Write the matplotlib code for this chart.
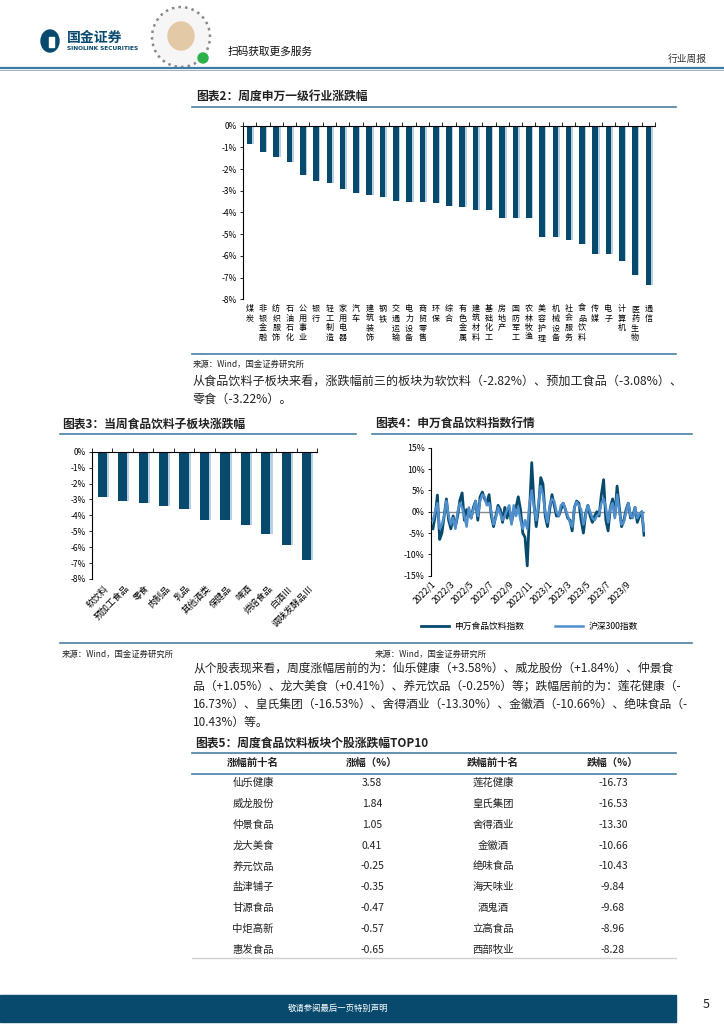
import matplotlib
matplotlib.use("Agg")
import matplotlib.pyplot as plt
import numpy as np
import pandas as pd
from matplotlib.lines import Line2D
from matplotlib.patches import Rectangle, Ellipse

plt.rcParams['font.family'] = ['Noto Sans CJK SC', 'DejaVu Sans']
plt.rcParams['axes.unicode_minus'] = False

# ---- data ----
ind_names = ['煤炭', '非银金融', '纺织服饰', '石油石化', '公用事业', '银行', '轻工制造', '家用电器',
             '汽车', '建筑装饰', '钢铁', '交通运输', '电力设备', '商贸零售', '环保', '综合',
             '有色金属', '建筑材料', '基础化工', '房地产', '国防军工', '农林牧渔', '美容护理',
             '机械设备', '社会服务', '食品饮料', '传媒', '电子', '计算机', '医药生物', '通信']
ind_chg = [-0.83, -1.19, -1.44, -1.67, -2.28, -2.53, -2.63, -2.91, -3.09, -3.20, -3.27,
           -3.45, -3.52, -3.52, -3.58, -3.70, -3.73, -3.88, -3.89, -4.26, -4.26, -4.27,
           -5.11, -5.14, -5.26, -5.46, -5.90, -5.93, -6.25, -6.89, -7.36]

sub_names = ['软饮料', '预加工食品', '零食', '肉制品', '乳品', '其他酒类', '保健品', '啤酒',
             '烘焙食品', '白酒Ⅲ', '调味发酵品Ⅲ']
sub_chg = [-2.82, -3.08, -3.22, -3.43, -3.60, -4.27, -4.31, -4.61, -5.19, -5.84, -6.79]

week_start = '2022-01-07'
food_idx = [-4, -1, 3.9, -6.5, -5, -1, 3, -2, -4, -1, -3.5, -1, 2.7, 4.4, -2, 0.5, 0, -1.5,
            1, 2.5, -2, 3.5, 4.6, 3, 2, 4, -1, -3.5, -1, 1.5, 0.5, -2.5, 1, -1.5, 0.5, -2.5,
            0, 1, 3.5, 0.5, -5, -6, -12.7, 0, 11.5, 2, -3.5, 1, 8, 6.5, -1, -3.5, 0.5, 4,
            1.5, -1, -1, 0.5, 2, 0.5, -1.5, -2, -4.5, 1, 2.5, 2, -2, -5, -0.5, 1.5, -1, -2.5,
            -1, 0, -1, 4, 7.5, -2, -4.5, 1, 3, -1, 6, 1, -3.5, -2, 0.5, 2, -1.5, -1, 1, -2.5,
            -1, 0, -5.5]
hs300_idx = [-2, 0, 2, -4, -3, -1, 2.5, -1, -3, -1.5, -4, 0, 2, 1, -1, -3.5, 1, -1.5, 0.5,
             2.5, -1, 2.5, 4, 3.5, 1.5, 2, 0, -3, -1.5, 1, -0.5, -2, -1, 0.5, 1.5, -3, 1.5,
             -1, 1, -2, -4, -2, -4, 2, 5, 1, -2, 2, 6, 4, 0, -2.5, 1.5, 3, 2.5, 0, -1, 1.5,
             2, 0.5, -1, -2.5, -3.5, 1, 2.3, 1.5, 0.5, -3, -1, 1.5, 0, -1.5, -2, -1, -0.5, 2,
             3, 1, -2.5, 1, 2, -1.5, 4, 0, -3, -2.5, 0, 2, -1, -1.5, 1, -1.5, -0.5, 0, -4.5]

tbl_up_names = ['仙乐健康', '威龙股份', '仲景食品', '龙大美食', '养元饮品', '盐津铺子', '甘源食品', '中炬高新', '惠发食品']
tbl_up_vals = ['3.58', '1.84', '1.05', '0.41', '-0.25', '-0.35', '-0.47', '-0.57', '-0.65']
tbl_dn_names = ['莲花健康', '皇氏集团', '舍得酒业', '金徽酒', '绝味食品', '海天味业', '酒鬼酒', '立高食品', '西部牧业']
tbl_dn_vals = ['-16.73', '-16.53', '-13.30', '-10.66', '-10.43', '-9.84', '-9.68', '-8.96', '-8.28']

NAVY = '#074a6e'
SHADOW = '#b7d0e3'
RULE = '#4a7fa3'
TXT = '#222222'

W, H = 724, 1024
fig = plt.figure(figsize=(W / 100, H / 100), dpi=100)


def box(x0, y0, x1, y1):
    return [x0 / W, 1 - y1 / H, (x1 - x0) / W, (y1 - y0) / H]


def T(x, y, s, **kw):
    kw.setdefault('color', TXT)
    kw.setdefault('va', 'center')
    fig.text(x / W, 1 - y / H, s, **kw)


def hline(y, x0, x1, color=RULE, lw=1.2):
    fig.add_artist(Line2D([x0 / W, x1 / W], [1 - y / H, 1 - y / H], color=color, lw=lw))


# ---- header ----
fig.add_artist(Ellipse((50 / W, 1 - 41 / H), 18 / W, 22 / H, color=NAVY))
fig.add_artist(Rectangle((49 / W, 1 - 47 / H), 5 / W, 10 / H, color='white'))
T(67, 38, '国金证券', fontsize=10, fontweight='bold', color=NAVY)
T(67, 49, 'SINOLINK SECURITIES', fontsize=4.2, fontweight='bold', color=NAVY, family='DejaVu Sans')
fig.add_artist(Ellipse((181 / W, 1 - 37 / H), 58 / W, 60 / H,
                       facecolor='#f6f6f6', edgecolor='#888888', lw=1.8, ls=':'))
fig.add_artist(Ellipse((181 / W, 1 - 36 / H), 26 / W, 28 / H, color='#e3c9a5'))
fig.add_artist(Ellipse((203 / W, 1 - 58 / H), 10 / W, 10 / H, color='#2db24a'))
T(228, 52, '扫码获取更多服务', fontsize=7.7, color='#111111')
T(668, 59, '行业周报', fontsize=7, color='#333333')
hline(68, 0, 724, color='#3d7aa8', lw=1.6)
hline(69.5, 0, 724, color='#9aa4ab', lw=0.6)

# ---- chart 2 ----
T(196, 97, '图表2：周度申万一级行业涨跌幅', fontsize=8.5, fontweight='bold', style='italic')
hline(107, 192, 676)
ax2 = fig.add_axes(box(243, 125.7, 655, 299.3))
x = np.arange(len(ind_names))
ax2.bar(x + 0.12, ind_chg, width=0.42, color=SHADOW, zorder=1)
ax2.bar(x, ind_chg, width=0.42, color=NAVY, zorder=2)
ax2.set_xlim(-0.5, len(ind_names) - 0.5)
ax2.set_ylim(-8, 0)
for s in ['right', 'bottom']:
    ax2.spines[s].set_visible(False)
for s in ['top', 'left']:
    ax2.spines[s].set_linewidth(0.8)
ax2.xaxis.set_ticks_position('top')
ax2.set_xticks(np.arange(-0.5, len(ind_names), 1))
ax2.tick_params(axis='x', direction='out', length=3, width=0.6, labeltop=False)
ax2.set_yticks(range(0, -9, -1))
ax2.set_yticklabels([f'{v}%' for v in range(0, -9, -1)], fontsize=6)
ax2.tick_params(axis='y', length=2.5, width=0.6, pad=2)
for i, n in enumerate(ind_names):
    ax2.text(i, -8.22, '\n'.join(n), ha='center', va='top', fontsize=5.8, linespacing=1.1)

hline(354, 192, 676)
T(193, 364, '来源：Wind，国金证券研究所', fontsize=6)
T(193, 381, '从食品饮料子板块来看，涨跌幅前三的板块为软饮料（-2.82%）、预加工食品（-3.08%）、', fontsize=8.7)
T(193, 399, '零食（-3.22%）。', fontsize=8.7)

# ---- chart 3 ----
T(62, 424, '图表3：当周食品饮料子板块涨跌幅', fontsize=8.5, fontweight='bold', style='italic')
hline(434, 60, 356)
ax3 = fig.add_axes(box(92, 451.7, 317, 579))
x3 = np.arange(len(sub_names))
ax3.bar(x3 + 0.1, sub_chg, width=0.45, color=SHADOW, zorder=1)
ax3.bar(x3, sub_chg, width=0.45, color=NAVY, zorder=2)
ax3.set_xlim(-0.5, len(sub_names) - 0.5)
ax3.set_ylim(-8, 0)
for s in ['right', 'bottom']:
    ax3.spines[s].set_visible(False)
for s in ['top', 'left']:
    ax3.spines[s].set_linewidth(0.8)
ax3.xaxis.set_ticks_position('top')
ax3.set_xticks(np.arange(-0.5, len(sub_names), 1))
ax3.tick_params(axis='x', direction='out', length=3, width=0.6, labeltop=False)
ax3.set_yticks(range(0, -9, -1))
ax3.set_yticklabels([f'{v}%' for v in range(0, -9, -1)], fontsize=6)
ax3.tick_params(axis='y', length=2.5, width=0.6, pad=2)
for i, n in enumerate(sub_names):
    ax3.text(i + 0.1, -8.3, n, ha='right', va='top', rotation=45, rotation_mode='anchor', fontsize=6.5)

# ---- chart 4 ----
T(375, 424, '图表4：申万食品饮料指数行情', fontsize=8.5, fontweight='bold', style='italic')
hline(434, 372, 692)
ax4 = fig.add_axes(box(431, 447.7, 645, 575.7))
dates = pd.date_range(week_start, periods=len(food_idx), freq='7D')
ax4.axhline(0, color='#8a8a8a', lw=1.0, zorder=1)
ax4.plot(dates, food_idx, color=NAVY, lw=2.0, zorder=2, label='申万食品饮料指数')
ax4.plot(dates, hs300_idx, color='#4f8fcc', lw=1.8, zorder=3, label='沪深300指数')
ax4.set_ylim(-15, 15)
ax4.set_xlim(pd.Timestamp('2022-01-01'), dates[-1] + pd.Timedelta(days=3))
for s in ['right', 'bottom', 'top']:
    ax4.spines[s].set_visible(False)
ax4.spines['left'].set_linewidth(0.8)
ax4.set_yticks(range(-15, 16, 5))
ax4.set_yticklabels([f'{v}%' for v in range(-15, 16, 5)], fontsize=6.3)
ax4.tick_params(axis='y', length=2.5, width=0.6, pad=2)
ticks = pd.date_range('2022-01-01', '2023-09-01', freq='2MS')
ax4.set_xticks(ticks)
ax4.set_xticklabels([f'{t.year}/{t.month}' for t in ticks], rotation=45, ha='right',
                    rotation_mode='anchor', fontsize=6.3)
ax4.tick_params(axis='x', length=0, pad=3)
ax4.legend(loc='center', bbox_to_anchor=(0.46, -0.40), ncol=2, frameon=False, fontsize=6.3,
           handlelength=3.2, columnspacing=3.5, handletextpad=0.6)

hline(643, 60, 692)
T(62, 654, '来源：Wind，国金证券研究所', fontsize=6)
T(375, 654, '来源：Wind，国金证券研究所', fontsize=6)

# ---- paragraph 2 ----
p2 = ['从个股表现来看，周度涨幅居前的为：仙乐健康（+3.58%）、威龙股份（+1.84%）、仲景食',
      '品（+1.05%）、龙大美食（+0.41%）、养元饮品（-0.25%）等；跌幅居前的为：莲花健康（-',
      '16.73%）、皇氏集团（-16.53%）、舍得酒业（-13.30%）、金徽酒（-10.66%）、绝味食品（-',
      '10.43%）等。']
for k, line in enumerate(p2):
    T(193, 668 + 18 * k, line, fontsize=8.5)

# ---- table ----
T(195, 743, '图表5：周度食品饮料板块个股涨跌幅TOP10', fontsize=8.5, fontweight='bold', style='italic')
hline(753, 192, 676)
col_x = [253, 372, 493, 613]
for cx, h in zip(col_x, ['涨幅前十名', '涨幅（%）', '跌幅前十名', '跌幅（%）']):
    T(cx, 763, h, fontsize=7.5, fontweight='bold', ha='center')
hline(774, 192, 676)
for r in range(len(tbl_up_names)):
    y = 783 + 20.85 * r
    T(col_x[0], y, tbl_up_names[r], fontsize=7.5, ha='center')
    T(col_x[1], y, tbl_up_vals[r], fontsize=7.5, ha='center')
    T(col_x[2], y, tbl_dn_names[r], fontsize=7.5, ha='center')
    T(col_x[3], y, tbl_dn_vals[r], fontsize=7.5, ha='center')
hline(958, 192, 676, color='#d0d0d0', lw=1.0)

# ---- footer ----
fig.add_artist(Rectangle((0, 1 - 1022 / H), 676 / W, 27 / H, color=NAVY, transform=fig.transFigure))
T(338, 1008, '敬请参阅最后一页特别声明', fontsize=6, color='white', ha='center')
T(706, 1005, '5', fontsize=9, ha='center', color='#222222')

fig.savefig('out.png', dpi=100)
